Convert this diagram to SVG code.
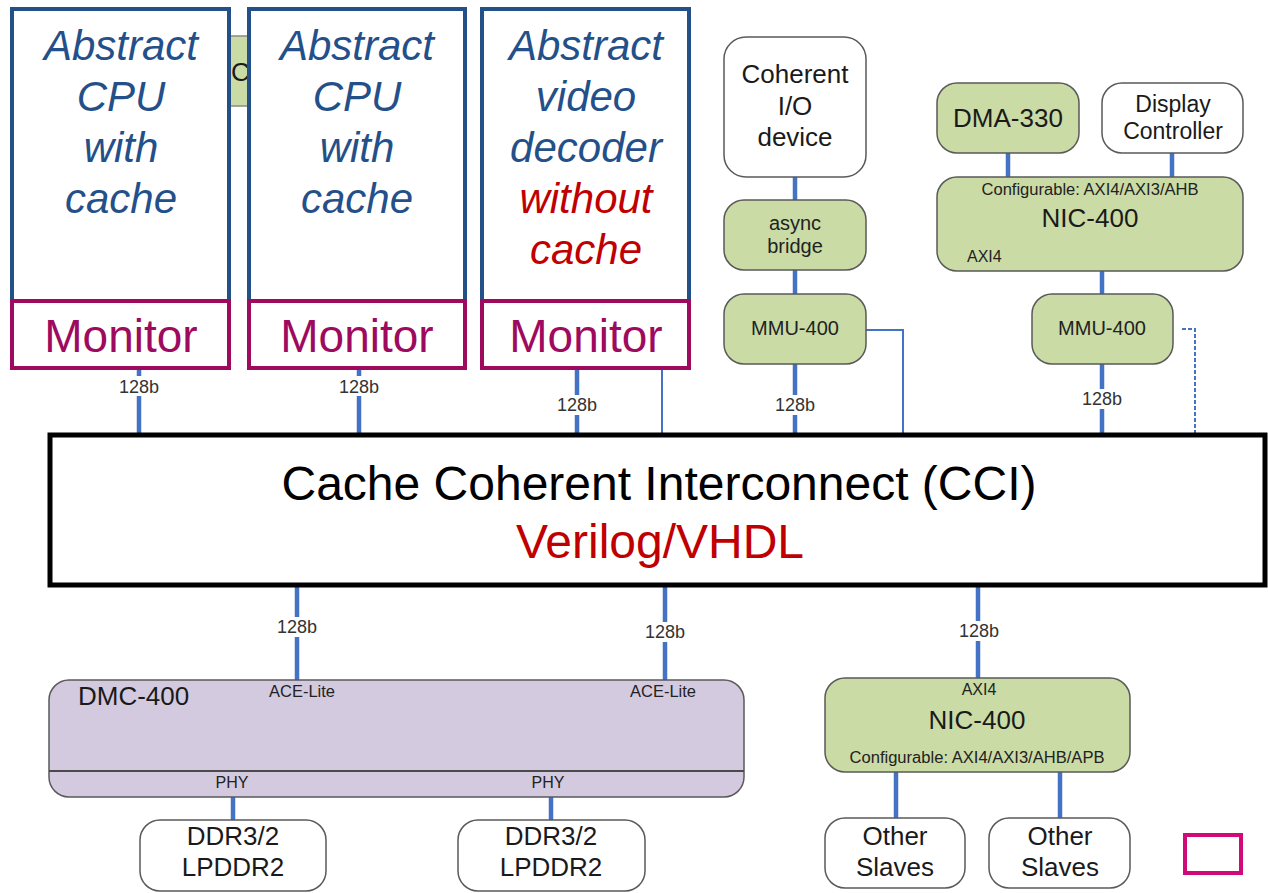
<svg xmlns="http://www.w3.org/2000/svg" width="1268" height="893" viewBox="0 0 1268 893">
<style>
  text { font-family: "Liberation Sans", Arial, sans-serif; }
  .abs { font-size: 42px; font-style: italic; fill: #24508a; text-anchor: middle; }
  .red { fill: #c00000; }
  .cpu { fill: #ffffff; stroke: #24508a; stroke-width: 4; }
  .mon { fill: #ffffff; stroke: #9e0a5e; stroke-width: 4; }
  .montxt { font-size: 46px; fill: #9e0a5e; text-anchor: middle; }
  .green { fill: #cadba5; stroke: #5a5a5a; stroke-width: 1.5; }
  .white { fill: #ffffff; stroke: #5a5a5a; stroke-width: 1.5; }
  .lav { fill: #d3cadf; stroke: #5a5a5a; stroke-width: 1.5; }
  .lbl { font-size: 18px; fill: #333333; text-anchor: middle; }
  .sm { font-size: 16px; fill: #222222; text-anchor: middle; }
  .mid { font-size: 20px; fill: #222222; text-anchor: middle; }
  .big { font-size: 26px; fill: #1a1a1a; text-anchor: middle; }
  .thick { stroke: #4472c4; stroke-width: 4.5; fill: none; }
  .thin { stroke: #4472c4; stroke-width: 2; fill: none; }
  .dash { stroke: #4472c4; stroke-width: 2; fill: none; stroke-dasharray: 4 2; }
  .gap { fill: #ffffff; }
</style>

<!-- partially hidden green box behind CPUs -->
<g id="hidden-box">
  <rect x="150" y="36" width="150" height="70" fill="#cadba5" stroke="#8a8a8a" stroke-width="1.5"/>
  <text x="231" y="81" style="font-size:26px;fill:#1a1a1a">C</text>
</g>

<g id="connectors">
  <!-- CPU1 -->
  <line class="thick" x1="139" y1="369" x2="139" y2="433"/>
  <rect class="gap" x="116" y="376" width="46" height="20"/>
  <text class="lbl" x="139" y="393">128b</text>
  <!-- CPU2 -->
  <line class="thick" x1="359" y1="369" x2="359" y2="433"/>
  <rect class="gap" x="336" y="376" width="46" height="20"/>
  <text class="lbl" x="359" y="393">128b</text>
  <!-- video decoder -->
  <line class="thick" x1="577" y1="369" x2="577" y2="433"/>
  <rect class="gap" x="554" y="395" width="46" height="20"/>
  <text class="lbl" x="577" y="411">128b</text>
  <line class="thin" x1="662" y1="369" x2="662" y2="433"/>
  <!-- coherent IO chain -->
  <line class="thick" x1="795" y1="177" x2="795" y2="200"/>
  <line class="thick" x1="795" y1="270" x2="795" y2="294"/>
  <line class="thick" x1="795" y1="364" x2="795" y2="433"/>
  <rect class="gap" x="772" y="395" width="46" height="20"/>
  <text class="lbl" x="795" y="411">128b</text>
  <polyline class="thin" points="866,330 903,330 903,433"/>
  <!-- right cluster -->
  <line class="thick" x1="1008" y1="153" x2="1008" y2="177"/>
  <line class="thick" x1="1172" y1="153" x2="1172" y2="177"/>
  <line class="thick" x1="1102" y1="271" x2="1102" y2="294"/>
  <line class="thick" x1="1102" y1="364" x2="1102" y2="433"/>
  <rect class="gap" x="1079" y="389" width="46" height="20"/>
  <text class="lbl" x="1102" y="405">128b</text>
  <polyline class="dash" points="1182,329 1195,329 1195,433"/>
  <!-- CCI to DMC -->
  <line class="thick" x1="297" y1="587" x2="297" y2="680"/>
  <rect class="gap" x="274" y="617" width="46" height="20"/>
  <text class="lbl" x="297" y="633">128b</text>
  <line class="thick" x1="665" y1="587" x2="665" y2="680"/>
  <rect class="gap" x="642" y="622" width="46" height="20"/>
  <text class="lbl" x="665" y="638">128b</text>
  <!-- CCI to NIC bottom -->
  <line class="thick" x1="978" y1="587" x2="978" y2="678"/>
  <rect class="gap" x="955" y="621" width="46" height="20"/>
  <text class="lbl" x="979" y="637">128b</text>
  <!-- DMC to DDR -->
  <line class="thick" x1="233" y1="797" x2="233" y2="820"/>
  <line class="thick" x1="551" y1="797" x2="551" y2="820"/>
  <!-- NIC to slaves -->
  <line class="thick" x1="896" y1="772" x2="896" y2="818"/>
  <line class="thick" x1="1060" y1="772" x2="1060" y2="818"/>
</g>

<g id="cpu1">
  <rect class="cpu" x="12" y="9" width="217" height="292"/>
  <text class="abs" x="121" y="60">Abstract</text>
  <text class="abs" x="121" y="111">CPU</text>
  <text class="abs" x="121" y="162">with</text>
  <text class="abs" x="121" y="213">cache</text>
  <rect class="mon" x="12" y="301" width="217" height="67"/>
  <text class="montxt" x="121" y="352">Monitor</text>
</g>

<g id="cpu2">
  <rect class="cpu" x="249" y="9" width="216" height="292"/>
  <text class="abs" x="357" y="60">Abstract</text>
  <text class="abs" x="357" y="111">CPU</text>
  <text class="abs" x="357" y="162">with</text>
  <text class="abs" x="357" y="213">cache</text>
  <rect class="mon" x="249" y="301" width="216" height="67"/>
  <text class="montxt" x="357" y="352">Monitor</text>
</g>

<g id="video">
  <rect class="cpu" x="482" y="9" width="207" height="292"/>
  <text class="abs" x="586" y="60">Abstract</text>
  <text class="abs" x="586" y="111">video</text>
  <text class="abs" x="586" y="162">decoder</text>
  <text class="abs red" x="586" y="213">without</text>
  <text class="abs red" x="586" y="264">cache</text>
  <rect class="mon" x="482" y="301" width="207" height="67"/>
  <text class="montxt" x="586" y="352">Monitor</text>
</g>

<g id="coherent-io">
  <rect class="white" x="724" y="37" width="142" height="140" rx="22"/>
  <text class="big" x="795" y="83">Coherent</text>
  <text class="big" x="795" y="115">I/O</text>
  <text class="big" x="795" y="146">device</text>
</g>

<g id="async-bridge">
  <rect class="green" x="724" y="200" width="142" height="70" rx="20"/>
  <text class="mid" x="795" y="230">async</text>
  <text class="mid" x="795" y="253">bridge</text>
</g>

<g id="mmu-left">
  <rect class="green" x="724" y="294" width="142" height="70" rx="20"/>
  <text class="mid" x="795" y="335">MMU-400</text>
</g>

<g id="dma">
  <rect class="green" x="937" y="83" width="142" height="70" rx="20"/>
  <text class="big" x="1008" y="127">DMA-330</text>
</g>

<g id="display">
  <rect class="white" x="1102" y="83" width="141" height="70" rx="20"/>
  <text class="big" x="1173" y="112" style="font-size:23px">Display</text>
  <text class="big" x="1173" y="139" style="font-size:23px">Controller</text>
</g>

<g id="nic-top">
  <rect class="green" x="937" y="177" width="306" height="94" rx="20"/>
  <text class="sm" x="1090" y="195" textLength="217" lengthAdjust="spacingAndGlyphs">Configurable: AXI4/AXI3/AHB</text>
  <text class="big" x="1090" y="227">NIC-400</text>
  <text class="sm" x="967" y="262" style="text-anchor:start">AXI4</text>
</g>

<g id="mmu-right">
  <rect class="green" x="1032" y="294" width="141" height="70" rx="20"/>
  <text class="mid" x="1102" y="335">MMU-400</text>
</g>

<g id="cci">
  <rect x="50" y="435" width="1215" height="150" fill="#ffffff" stroke="#000000" stroke-width="5"/>
  <text x="659" y="500" style="font-size:48px;fill:#000000;text-anchor:middle">Cache Coherent Interconnect (CCI)</text>
  <text x="660" y="558" style="font-size:48px;fill:#c00000;text-anchor:middle">Verilog/VHDL</text>
</g>

<g id="dmc">
  <rect class="lav" x="49" y="680" width="695" height="117" rx="20"/>
  <line x1="49" y1="771" x2="744" y2="771" stroke="#4a4a4a" stroke-width="2"/>
  <text class="big" x="78" y="705" style="text-anchor:start">DMC-400</text>
  <text class="sm" x="302" y="697" textLength="66" lengthAdjust="spacingAndGlyphs">ACE-Lite</text>
  <text class="sm" x="663" y="697" textLength="66" lengthAdjust="spacingAndGlyphs">ACE-Lite</text>
  <text class="sm" x="232" y="788">PHY</text>
  <text class="sm" x="548" y="788">PHY</text>
</g>

<g id="ddr1">
  <rect class="white" x="140" y="820" width="186" height="71" rx="20"/>
  <text class="big" x="233" y="845">DDR3/2</text>
  <text class="big" x="233" y="876">LPDDR2</text>
</g>

<g id="ddr2">
  <rect class="white" x="458" y="820" width="187" height="71" rx="20"/>
  <text class="big" x="551" y="845">DDR3/2</text>
  <text class="big" x="551" y="876">LPDDR2</text>
</g>

<g id="nic-bottom">
  <rect class="green" x="825" y="678" width="305" height="94" rx="20"/>
  <text class="sm" x="979" y="695">AXI4</text>
  <text class="big" x="977" y="729">NIC-400</text>
  <text class="sm" x="977" y="763" textLength="255" lengthAdjust="spacingAndGlyphs">Configurable: AXI4/AXI3/AHB/APB</text>
</g>

<g id="slave1">
  <rect class="white" x="825" y="818" width="140" height="70" rx="20"/>
  <text class="big" x="895" y="845">Other</text>
  <text class="big" x="895" y="876">Slaves</text>
</g>

<g id="slave2">
  <rect class="white" x="989" y="818" width="141" height="70" rx="20"/>
  <text class="big" x="1060" y="845">Other</text>
  <text class="big" x="1060" y="876">Slaves</text>
</g>

<g id="marker-box">
  <rect x="1185" y="835" width="56" height="38" fill="none" stroke="#d10a7a" stroke-width="4"/>
</g>
</svg>
